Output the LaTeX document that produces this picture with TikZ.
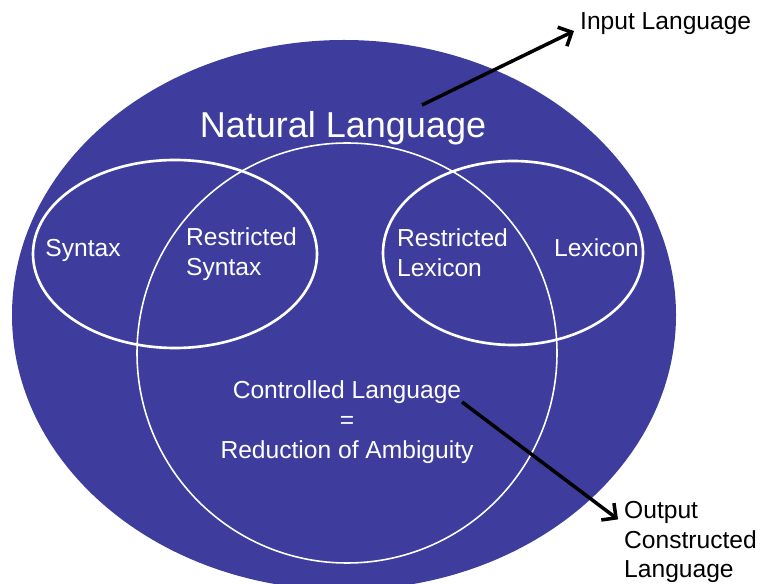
\documentclass[tikz,border=0pt]{standalone}
\usepackage{fontspec}
\setmainfont{Liberation Sans}
\usetikzlibrary{arrows.meta}
\definecolor{natblue}{RGB}{62,61,158}

\begin{document}
\begin{tikzpicture}[
    lbl/.style={text=white, font=\fontsize{14}{17}\selectfont},
    note/.style={text=black, font=\fontsize{14}{17}\selectfont, align=left},
    ring/.style={draw=white, line width=1.5pt},
    pointer/.style={->, >={Straight Barb[length=6pt,width=12pt]}, line width=2pt}
]
    \clip (0,0) rectangle (15.24,11.66);
    % the sets
    \fill[natblue] (6.88,5.36) ellipse [x radius=6.64, y radius=5.5];
    \draw[white, line width=0.9pt] (6.94,4.6) circle (4.2);
    \draw[ring] (3.5,6.58) ellipse [x radius=2.84, y radius=1.88];
    \draw[ring] (10.26,6.6) ellipse [x radius=2.6, y radius=1.84];

    \node[text=white, font=\fontsize{20.5}{24}\selectfont] (nat) at (6.86,9.10) {Natural Language};
    \node[lbl] (syn) at (1.66,6.66) {Syntax};
    \node[lbl, align=left] (rsyn) at (4.83,6.58) {Restricted\\Syntax};
    \node[lbl, align=left] (rlex) at (9.05,6.60) {Restricted\\Lexicon};
    \node[lbl] (lex) at (11.93,6.70) {Lexicon};
    \node[lbl, align=center] (ctl) at (6.94,3.22) {Controlled Language\\=\\Reduction of Ambiguity};

    % outside labels
    \node[note, anchor=west] (in) at (11.48,11.18) {Input Language};
    \node[note, anchor=west] (out) at (12.36,0.82) {Output\\Constructed\\Language};

    \coordinate (natend) at (8.44,9.56);
    \coordinate (ctlend) at (9.24,3.62);
    \draw[pointer] (natend) -- ([yshift=-4pt]in.west);
    \draw[pointer] (ctlend) -- ([yshift=-14pt]out.north west);
\end{tikzpicture}
\end{document}
